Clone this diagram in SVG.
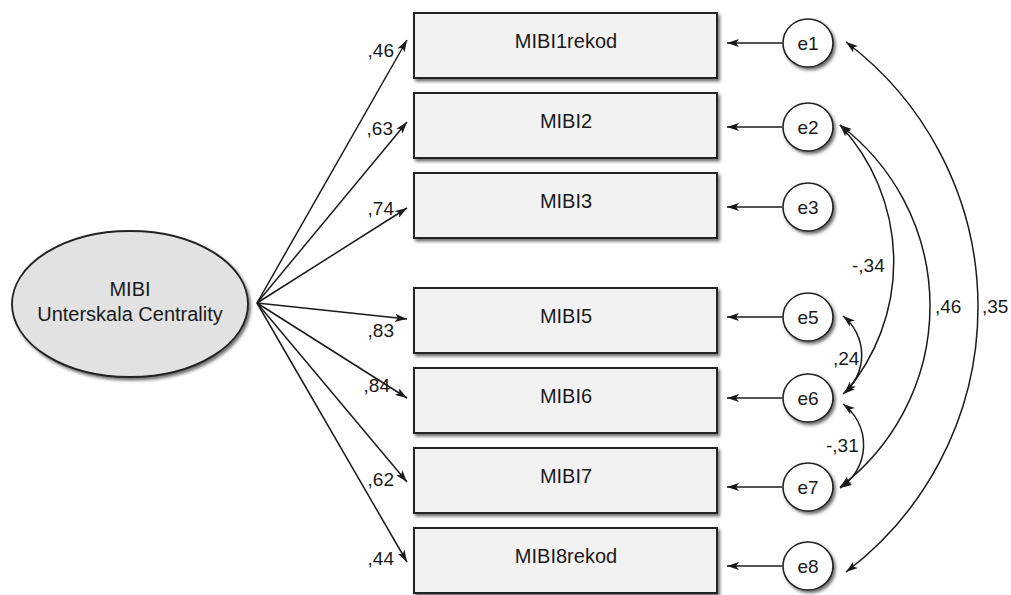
<svg xmlns="http://www.w3.org/2000/svg" width="1011" height="595" viewBox="0 0 1011 595">
  <style>
    .box { fill: #f2f2f2; stroke: #222; stroke-width: 2; filter: url(#shadow); }
    .err { fill: #ffffff; stroke: #222; stroke-width: 1.6; filter: url(#shadow); }
    .lat { fill: #e2e2e2; stroke: #222; stroke-width: 1.8; filter: url(#shadow); }
    .lbl { font-family: "Liberation Sans", Arial, sans-serif; font-size: 20px; fill: #1a1a1a; text-anchor: middle; }
    .num { font-family: "Liberation Sans", Arial, sans-serif; font-size: 19px; fill: #1a1a1a; }
    .end { text-anchor: end; }
    .arr { fill: none; stroke: #1a1a1a; stroke-width: 1.5; marker-end: url(#head); }
    .cov { fill: none; stroke: #1a1a1a; stroke-width: 1.5; marker-start: url(#head); marker-end: url(#head); }
  </style>
  <defs>
    <filter id="shadow" x="-10%" y="-10%" width="130%" height="130%">
      <feDropShadow dx="2" dy="2.5" stdDeviation="1.5" flood-color="#222" flood-opacity="0.65"/>
    </filter>
    <marker id="head" viewBox="0 0 12 8" refX="12" refY="4" markerWidth="12" markerHeight="8" markerUnits="userSpaceOnUse" orient="auto-start-reverse">
      <path d="M0,0 L12,4 L0,8 L3,4 z" fill="#1a1a1a"/>
    </marker>
  </defs>

  <!-- latent factor -->
  <g id="factor">
    <ellipse class="lat" cx="130" cy="304" rx="118" ry="73"/>
    <text class="lbl" x="130" y="296">MIBI</text>
    <text class="lbl" x="130" y="321">Unterskala Centrality</text>
  </g>

  <!-- observed items -->
  <g id="item1"><rect class="box" x="414" y="13" width="303" height="65"/><text class="lbl" x="566" y="48">MIBI1rekod</text></g>
  <g id="item2"><rect class="box" x="414" y="93" width="303" height="65"/><text class="lbl" x="566" y="128">MIBI2</text></g>
  <g id="item3"><rect class="box" x="414" y="173" width="303" height="65"/><text class="lbl" x="566" y="208">MIBI3</text></g>
  <g id="item5"><rect class="box" x="414" y="288" width="303" height="65"/><text class="lbl" x="566" y="323">MIBI5</text></g>
  <g id="item6"><rect class="box" x="414" y="368" width="303" height="65"/><text class="lbl" x="566" y="403">MIBI6</text></g>
  <g id="item7"><rect class="box" x="414" y="448" width="303" height="65"/><text class="lbl" x="566" y="483">MIBI7</text></g>
  <g id="item8"><rect class="box" x="414" y="528" width="303" height="65"/><text class="lbl" x="566" y="563">MIBI8rekod</text></g>

  <!-- error terms -->
  <g id="e1"><ellipse class="err" cx="808" cy="43" rx="25" ry="24"/><text class="num" x="808" y="50" text-anchor="middle">e1</text></g>
  <g id="e2"><ellipse class="err" cx="808" cy="127" rx="25" ry="24"/><text class="num" x="808" y="134" text-anchor="middle">e2</text></g>
  <g id="e3"><ellipse class="err" cx="808" cy="207" rx="25" ry="24"/><text class="num" x="808" y="214" text-anchor="middle">e3</text></g>
  <g id="e5"><ellipse class="err" cx="808" cy="317" rx="25" ry="24"/><text class="num" x="808" y="324" text-anchor="middle">e5</text></g>
  <g id="e6"><ellipse class="err" cx="808" cy="398" rx="25" ry="24"/><text class="num" x="808" y="405" text-anchor="middle">e6</text></g>
  <g id="e7"><ellipse class="err" cx="808" cy="487" rx="25" ry="24"/><text class="num" x="808" y="494" text-anchor="middle">e7</text></g>
  <g id="e8"><ellipse class="err" cx="808" cy="566" rx="25" ry="24"/><text class="num" x="808" y="573" text-anchor="middle">e8</text></g>

  <!-- connectors -->
  <g id="connectors">
    <!-- loadings -->
    <line class="arr" x1="257" y1="303" x2="407" y2="40"/>
    <line class="arr" x1="257" y1="303" x2="407" y2="122"/>
    <line class="arr" x1="257" y1="303" x2="407" y2="208"/>
    <line class="arr" x1="257" y1="303" x2="407" y2="319"/>
    <line class="arr" x1="257" y1="303" x2="407" y2="398"/>
    <line class="arr" x1="257" y1="303" x2="407" y2="482"/>
    <line class="arr" x1="257" y1="303" x2="407" y2="562"/>
    <!-- error paths -->
    <line class="arr" x1="782" y1="43" x2="727" y2="43"/>
    <line class="arr" x1="782" y1="127" x2="727" y2="127"/>
    <line class="arr" x1="782" y1="207" x2="727" y2="207"/>
    <line class="arr" x1="782" y1="317" x2="727" y2="317"/>
    <line class="arr" x1="782" y1="398" x2="727" y2="398"/>
    <line class="arr" x1="782" y1="487" x2="727" y2="487"/>
    <line class="arr" x1="782" y1="566" x2="727" y2="566"/>
    <!-- error covariances -->
    <path class="cov" d="M846,42 A332,332 0 0 1 846,572"/>
    <path class="cov" d="M840,125 A227,227 0 0 1 840,487"/>
    <path class="cov" d="M840,125 A201,201 0 0 1 845,393"/>
    <path class="cov" d="M843,316 A50,50 0 0 1 843,394"/>
    <path class="cov" d="M843,404 A51,51 0 0 1 840,488"/>
  </g>

  <!-- loading values -->
  <g id="loading-labels">
    <text class="num end" x="394" y="57">,46</text>
    <text class="num end" x="393" y="135">,63</text>
    <text class="num end" x="394" y="215">,74</text>
    <text class="num end" x="394" y="337">,83</text>
    <text class="num end" x="390" y="392">,84</text>
    <text class="num end" x="394" y="486">,62</text>
    <text class="num end" x="394" y="565">,44</text>
  </g>

  <!-- covariance values -->
  <g id="covariance-labels">
    <text class="num" x="852" y="272">-,34</text>
    <text class="num" x="833" y="365">,24</text>
    <text class="num" x="826" y="452">-,31</text>
    <text class="num" x="935" y="313">,46</text>
    <text class="num" x="982" y="313">,35</text>
  </g>
</svg>
